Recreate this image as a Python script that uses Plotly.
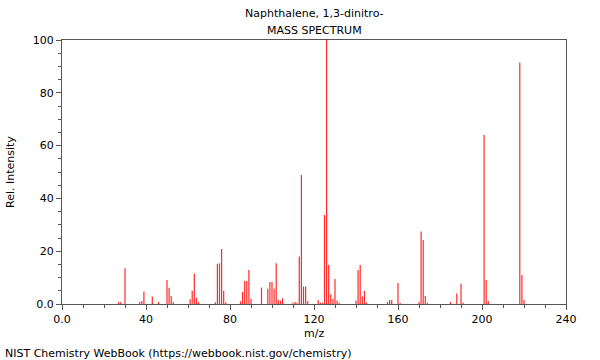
import plotly.graph_objects as go

mz = [27, 28, 30, 37, 38, 39, 43, 46, 50, 51, 52, 53, 61, 62, 63, 64, 65,
      73, 74, 75, 76, 77, 78, 85, 86, 87, 88, 89, 90, 95, 98, 99, 100, 101,
      102, 103, 104, 105, 110, 111, 112, 113, 114, 115, 116, 117, 122, 123,
      124, 125, 126, 127, 128, 129, 130, 131, 132, 140, 141, 142, 143, 144,
      145, 155, 156, 157, 160, 161, 170, 171, 172, 173, 174, 185, 188, 190,
      191, 201, 202, 203, 218, 219, 220]
intensity = [0.8, 0.8, 13.5, 0.8, 1.1, 4.7, 2.8, 0.8, 9.1, 6.2, 3.0, 0.8, 1.8,
             5.0, 11.6, 2.4, 0.7, 0.7, 15.2, 15.4, 20.8, 5.0, 0.7, 1.0, 4.5,
             8.7, 8.7, 12.9, 2.0, 6.2, 5.8, 8.3, 8.3, 5.9, 15.4, 1.5, 1.2, 2.2,
             0.5, 0.8, 0.5, 18.0, 48.9, 6.6, 6.6, 1.1, 1.5, 0.5, 0.5, 33.7,
             100, 14.8, 3.7, 2.0, 9.5, 1.3, 0.5, 1.3, 12.9, 14.8, 2.8, 4.9,
             0.6, 0.8, 1.5, 1.5, 8.0, 0.4, 0.8, 27.5, 24.2, 3.0, 0.5, 0.8, 4.0,
             7.7, 0.5, 64.0, 9.1, 1.1, 91.5, 11.0, 1.5]

x_ticks = [0, 40, 80, 120, 160, 200, 240]
x_ticktext = ["0.0", "40", "80", "120", "160", "200", "240"]
y_ticks = [0, 20, 40, 60, 80, 100]
y_ticktext = ["0.0", "20", "40", "60", "80", "100"]

title_line1 = "Naphthalene, 1,3-dinitro-"
title_line2 = "MASS SPECTRUM"
footer = "NIST Chemistry WebBook (https://webbook.nist.gov/chemistry)"

font = "DejaVu Sans"

# vertical stick segments built from the data
seg_x, seg_y = [], []
for m, v in zip(mz, intensity):
    seg_x += [m, m, None]
    seg_y += [0, v, None]

fig = go.Figure()
fig.add_trace(go.Scatter(x=seg_x, y=seg_y, mode="lines",
                         line=dict(color="#ff2a2a", width=1.2),
                         hoverinfo="skip"))

axis_common = dict(showgrid=False, zeroline=False, showline=True,
                   linecolor="#555555", linewidth=1, mirror=True,
                   ticks="outside", ticklen=5, tickcolor="#555555",
                   tickfont=dict(family=font, size=11, color="#000"))

fig.update_xaxes(range=[0, 240], tickvals=x_ticks, ticktext=x_ticktext,
                 minor=dict(dtick=10, ticks="outside", ticklen=3,
                            tickcolor="#555555"),
                 **axis_common)
fig.update_yaxes(range=[0, 100], tickvals=y_ticks, ticktext=y_ticktext,
                 minor=dict(dtick=5, ticks="outside", ticklen=3,
                            tickcolor="#555555"),
                 **axis_common)

ann_font = dict(family=font, size=11, color="#000")
fig.update_layout(
    width=600, height=360,
    margin=dict(l=62, r=34, t=40, b=56),
    paper_bgcolor="white", plot_bgcolor="white",
    showlegend=False,
    annotations=[
        dict(text=title_line1, x=0.5, y=1, xref="paper", yref="paper",
             yshift=27, showarrow=False, font=ann_font, yanchor="middle"),
        dict(text=title_line2, x=0.5, y=1, xref="paper", yref="paper",
             yshift=10, showarrow=False, font=ann_font, yanchor="middle"),
        dict(text="m/z", x=0.5, y=0, xref="paper", yref="paper",
             yshift=-29, showarrow=False, font=ann_font, yanchor="middle"),
        dict(text="Rel. Intensity", x=0, y=0.5, xref="paper", yref="paper",
             xshift=-52, textangle=-90, showarrow=False, font=ann_font,
             xanchor="center", yanchor="middle"),
        dict(text=footer, x=0, y=0, xref="paper", yref="paper",
             xshift=-59, yshift=-49, xanchor="left", yanchor="middle",
             showarrow=False, font=ann_font),
    ],
)

fig.write_html(
    "out.html",
    config={"displayModeBar": False},
    post_script="document.body.style.margin='0';document.body.style.padding='0';",
)
